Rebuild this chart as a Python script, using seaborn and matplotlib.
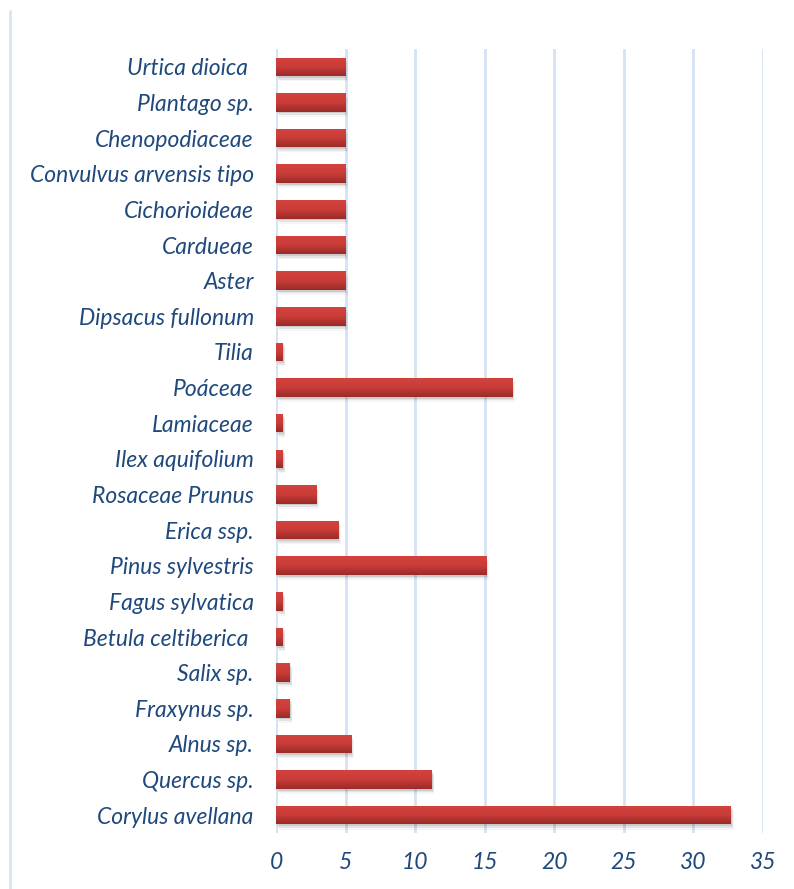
import matplotlib
matplotlib.use("Agg")
import matplotlib.pyplot as plt
import numpy as np
import pandas as pd
import seaborn as sns
from matplotlib.lines import Line2D

# data (top to bottom as shown)
taxa = ["Urtica dioica ", "Plantago sp.", "Chenopodiaceae", "Convulvus arvensis tipo",
        "Cichorioideae", "Cardueae", "Aster", "Dipsacus fullonum", "Tilia", "Poáceae",
        "Lamiaceae", "Ilex aquifolium", "Rosaceae Prunus", "Erica ssp.", "Pinus sylvestris",
        "Fagus sylvatica", "Betula celtiberica ", "Salix sp.", "Fraxynus sp.", "Alnus sp.",
        "Quercus sp.", "Corylus avellana"]
values = [5, 5, 5, 5, 5, 5, 5, 5, 0.5, 17, 0.5, 0.5, 2.9, 4.5, 15.1,
          0.5, 0.5, 1.0, 1.0, 5.4, 11.2, 32.7]
xticks = [0, 5, 10, 15, 20, 25, 30, 35]

sns.set_theme(style="white")
plt.rcParams["font.family"] = ["Lato", "DejaVu Sans"]

txt_color = "#1F497D"
grid_color = "#D6E2F3"

df = pd.DataFrame({"taxon": taxa, "value": values})

fig = plt.figure(figsize=(7.94, 8.89), dpi=100)
ax = fig.add_axes([276 / 794, 1 - 833 / 889, (763 - 276) / 794, (833 - 49) / 889])

sns.barplot(data=df, x="value", y="taxon", orient="h", color="#C0392F",
            width=0.52, ax=ax, zorder=3, edgecolor="none")

# gradient + soft shadow on each bar
grad = np.linspace(0, 1, 64).reshape(-1, 1)
cmap = matplotlib.colors.LinearSegmentedColormap.from_list("bar", ["#D3433E", "#C93C38", "#9A2B29"])
for p in list(ax.patches):
    x0, y0 = p.get_x(), p.get_y()
    w, h = p.get_width(), p.get_height()
    for k, a in [(0.06, 0.10), (0.12, 0.07), (0.18, 0.04)]:
        sh = matplotlib.patches.Rectangle((x0 + k, y0 + k * 0.8), w, h, facecolor="#000000",
                                          alpha=a, edgecolor="none", zorder=2)
        ax.add_patch(sh)
    im = ax.imshow(grad, cmap=cmap, aspect="auto", extent=(x0, x0 + w, y0 + h, y0),
                   zorder=4, interpolation="bilinear")
    im.set_clip_path(p)

ax.set_xlim(0, 35)
ax.set_ylim(len(taxa) - 0.5, -0.5)
ax.set_xticks(xticks)
ax.grid(axis="x", color=grid_color, linewidth=2, zorder=0)
ax.grid(axis="y", visible=False)
ax.set_axisbelow(True)
for s in ax.spines.values():
    s.set_visible(False)
ax.set_xlabel("")
ax.set_ylabel("")
ax.tick_params(axis="y", length=0, pad=16, labelsize=16.5, labelcolor=txt_color)
ax.tick_params(axis="x", length=0, pad=14, labelsize=16.5, labelcolor=txt_color)
for lab in ax.get_yticklabels() + ax.get_xticklabels():
    lab.set_style("italic")

# chart frame line on the left
fig.add_artist(Line2D([10 / 794, 10 / 794], [0, 1 - 11 / 889], transform=fig.transFigure,
                      color="#D9E4F2", linewidth=2))

fig.savefig("out.png", dpi=100)
